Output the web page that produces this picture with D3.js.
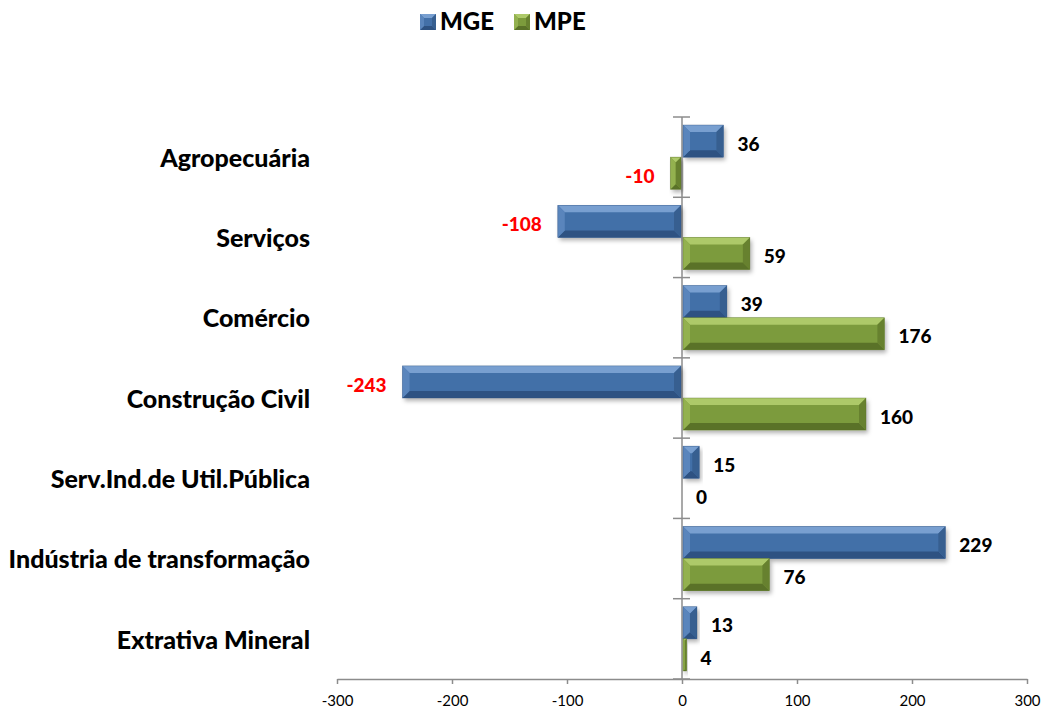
<!DOCTYPE html>
<html><head><meta charset="utf-8">
<script src="https://cdn.jsdelivr.net/npm/d3@7"></script>
<style>body{margin:0;background:#fff}svg{display:block}</style>
</head><body>
<svg id="c" width="1043" height="711"></svg>
<script>
const categories = ["Agropecuária","Serviços","Comércio","Construção Civil","Serv.Ind.de Util.Pública","Indústria de transformação","Extrativa Mineral"];
const seriesNames = ["MGE","MPE"];
const mge = [36,-108,39,-243,15,229,13];
const mpe = [-10,59,176,160,0,76,4];
const xTicks = [-300,-200,-100,0,100,200,300];

const colors = {
  MGE:{main:"#4370A8",top:"#789FD0",bottom:"#2E5282",left:"#5A85BC",right:"#375F90"},
  MPE:{main:"#7C9B3C",top:"#ADC969",bottom:"#5A7228",left:"#93B14F",right:"#67812F"}
};
const FONT = "Lato, 'Open Sans', sans-serif";

const svg = d3.select("#c");
const x = d3.scaleLinear().domain([-300,300]).range([337,1027]);
const y = d3.scaleBand().domain(categories).range([117,679]).paddingInner(0).paddingOuter(0);
const ys = d3.scaleBand().domain(seriesNames).range([0,y.bandwidth()]).paddingInner(0).paddingOuter(0.25);

const defs = svg.append("defs");
const f = defs.append("filter").attr("id","sh").attr("x","-10%").attr("y","-20%").attr("width","130%").attr("height","160%");
f.append("feDropShadow").attr("dx",2).attr("dy",3).attr("stdDeviation",2).attr("flood-color","#000").attr("flood-opacity",0.3);

// vertical axis
svg.append("line").attr("x1",x(0)).attr("x2",x(0)).attr("y1",117).attr("y2",679).attr("stroke","#8c8c8c").attr("stroke-width",1.5);
const bounds = d3.range(categories.length+1).map(i=>117 + i*y.step());
svg.selectAll(".vt").data(bounds).join("line").attr("x1",x(0)-9).attr("x2",x(0)+8).attr("y1",d=>d).attr("y2",d=>d).attr("stroke","#8c8c8c").attr("stroke-width",1.5);

// bottom axis
const ax = svg.append("g").attr("transform","translate(0,679)").call(d3.axisBottom(x).tickValues(xTicks).tickFormat(d=>String(d)).tickSize(5).tickPadding(11).tickSizeOuter(0));
ax.select(".domain").attr("stroke","#8c8c8c").attr("stroke-width",1.5);
ax.selectAll(".tick line").attr("stroke","#8c8c8c").attr("stroke-width",1.5);
ax.selectAll("text").attr("font-family",FONT).attr("font-size",15).attr("fill","#000");

// bars
const data = [];
categories.forEach((c,i)=>{
  data.push({cat:c,s:"MGE",v:mge[i]});
  data.push({cat:c,s:"MPE",v:mpe[i]});
});

const g = svg.append("g");
data.forEach(d=>{
  if (d.v===0) return;
  const x0 = Math.min(x(0),x(d.v))+ (d.v>0?1:0), x1 = Math.max(x(0),x(d.v)) - (d.v<0?1:0);
  const y0 = y(d.cat)+ys(d.s), y1 = y0+ys.bandwidth();
  const b = Math.min(7,(x1-x0)/2,(y1-y0)/2);
  const col = colors[d.s];
  const bg = g.append("g");
  bg.append("rect").attr("x",x0).attr("y",y0).attr("width",x1-x0).attr("height",y1-y0).attr("fill",col.main).attr("filter","url(#sh)");
  const poly = (pts,fill)=>bg.append("polygon").attr("points",pts.map(p=>p.join(",")).join(" ")).attr("fill",fill);
  poly([[x0,y0],[x1,y0],[x1-b,y0+b],[x0+b,y0+b]],col.top);
  poly([[x0,y1],[x1,y1],[x1-b,y1-b],[x0+b,y1-b]],col.bottom);
  poly([[x0,y0],[x0+b,y0+b],[x0+b,y1-b],[x0,y1]],col.left);
  poly([[x1,y0],[x1-b,y0+b],[x1-b,y1-b],[x1,y1]],col.right);
  bg.append("rect").attr("x",x0).attr("y",y0).attr("width",x1-x0).attr("height",y1-y0).attr("fill","none").attr("stroke",col.bottom).attr("stroke-width",0.6).attr("stroke-opacity",0.6);
});

// value labels
svg.append("g").selectAll("text").data(data).join("text")
  .attr("x",d=>d.v<0 ? x(d.v)-16 : x(d.v)+14)
  .attr("y",d=>y(d.cat)+ys(d.s)+ys.bandwidth()/2+3)
  .attr("dy","0.35em")
  .attr("text-anchor",d=>d.v<0?"end":"start")
  .attr("font-family",FONT).attr("font-weight","900").attr("font-size",19)
  .attr("fill",d=>d.v<0?"#ff0000":"#000")
  .text(d=>d.v);

// category labels
svg.append("g").selectAll("text").data(categories).join("text")
  .attr("x",310).attr("y",d=>y(d)+y.bandwidth()/2+1).attr("dy","0.35em")
  .attr("text-anchor","end")
  .attr("font-family",FONT).attr("font-weight","900").attr("font-size",25)
  .attr("fill","#000").text(d=>d);

// legend
const lg = svg.append("g");
const lx = [420,514];
seriesNames.forEach((s,i)=>{
  const col = colors[s];
  const x0=lx[i], y0=14, x1=x0+16, y1=y0+16, b=4;
  lg.append("rect").attr("x",x0).attr("y",y0).attr("width",16).attr("height",16).attr("fill",col.main);
  const poly = (pts,fill)=>lg.append("polygon").attr("points",pts.map(p=>p.join(",")).join(" ")).attr("fill",fill);
  poly([[x0,y0],[x1,y0],[x1-b,y0+b],[x0+b,y0+b]],col.top);
  poly([[x0,y1],[x1,y1],[x1-b,y1-b],[x0+b,y1-b]],col.bottom);
  poly([[x0,y0],[x0+b,y0+b],[x0+b,y1-b],[x0,y1]],col.left);
  poly([[x1,y0],[x1-b,y0+b],[x1-b,y1-b],[x1,y1]],col.right);
  lg.append("text").attr("x",x0+20).attr("y",22).attr("dy","0.35em")
    .attr("font-family",FONT).attr("font-weight","900").attr("font-size",24)
    .attr("fill","#000").text(s);
});
</script>
</body></html>
